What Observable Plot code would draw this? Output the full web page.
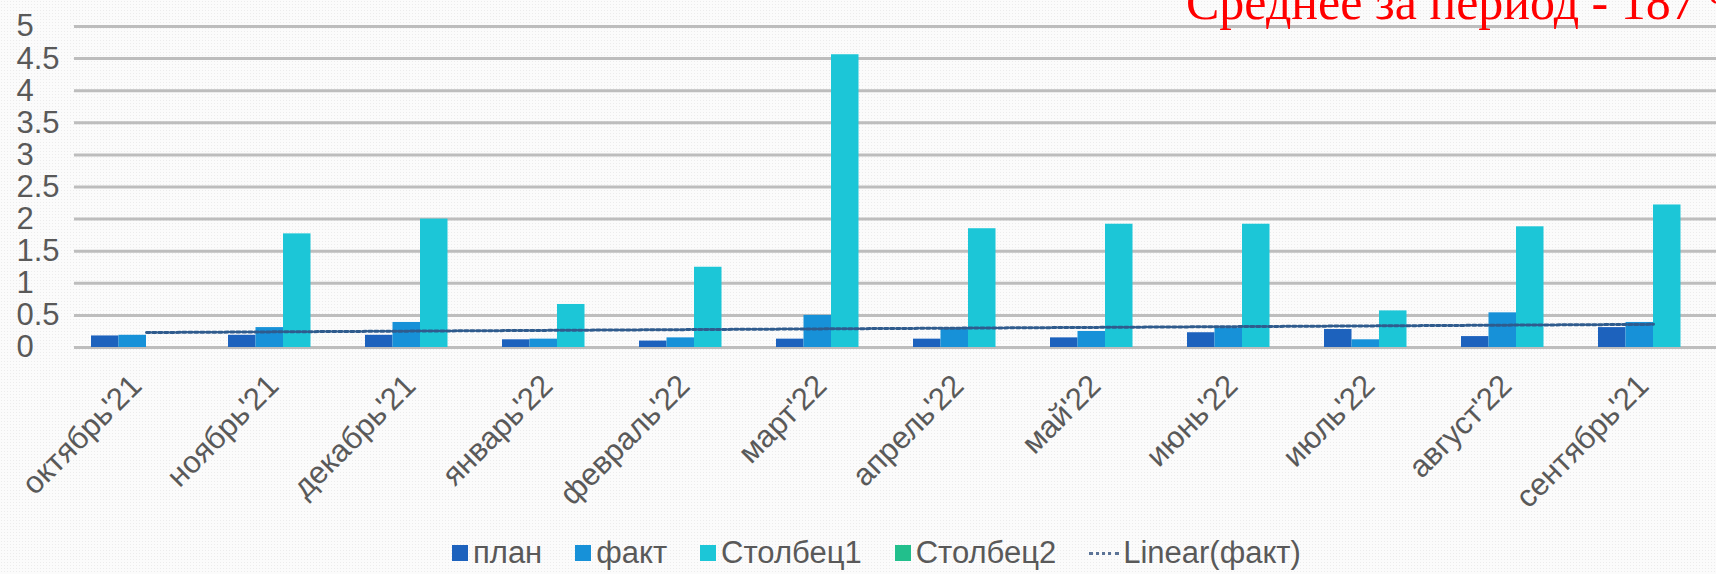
<!DOCTYPE html>
<html><head><meta charset="utf-8">
<script src="https://cdn.jsdelivr.net/npm/d3@7"></script>
<script src="https://cdn.jsdelivr.net/npm/@observablehq/plot@0.6"></script>
<style>
html,body{margin:0;padding:0;overflow:hidden;}
body{width:1716px;height:574px;background-color:#fbfbfb;background-image:radial-gradient(#ececec 0.7px, transparent 0.9px);background-size:3px 3px;font-family:"Liberation Sans",Arial,sans-serif;}
#wrap{position:relative;width:1716px;height:574px;overflow:hidden;}
#legend{display:flex;align-items:center;height:42px;padding-left:452px;font-size:31px;color:#595959;white-space:nowrap;}
.item{display:flex;align-items:center;margin-right:33px;}
.sw{width:16px;height:16px;margin-right:5px;}
.dl{width:30px;height:0;border-top:3px dotted #5b7396;margin-right:4px;}
</style></head><body>
<div id="wrap"><div id="chart"></div><div id="legend"></div></div>
<script>
const months = ["октябрь'21","ноябрь'21","декабрь'21","январь'22","февраль'22","март'22","апрель'22","май'22","июнь'22","июль'22","август'22","сентябрь'21"];
const plan = [0.18, 0.19, 0.19, 0.12, 0.10, 0.13, 0.13, 0.15, 0.23, 0.28, 0.17, 0.31];
const fact = [0.19, 0.31, 0.39, 0.13, 0.15, 0.50, 0.29, 0.25, 0.30, 0.12, 0.54, 0.39];
const col1 = [0, 1.77, 2.00, 0.67, 1.25, 4.56, 1.85, 1.92, 1.92, 0.57, 1.88, 2.22];
const col2 = [0, 0, 0, 0, 0, 0, 0, 0, 0, 0, 0, 0];
const seriesNames = ["план", "факт", "Столбец1", "Столбец2"];
const seriesColors = ["#1d62bd", "#1791d8", "#1cc6d7", "#22bf8c"];
const yTicks = [0, 0.5, 1, 1.5, 2, 2.5, 3, 3.5, 4, 4.5, 5];
const trendName = "Linear(факт)";
const title = "Среднее за период - 187 %";

const seriesValues = [plan, fact, col1, col2];
const rows = months.flatMap((m, i) => seriesValues.map((vals, s) => ({month: m, series: seriesNames[s], value: vals[i]})));

// Linear trendline of "факт" (least squares over category index)
const xs = fact.map((_, i) => i + 1);
const mx = d3.mean(xs), my = d3.mean(fact);
const slope = d3.sum(xs, (x, i) => (x - mx) * (fact[i] - my)) / d3.sum(xs, x => (x - mx) ** 2);
const trend = months.map((m, i) => ({month: m, value: my + slope * (i + 1 - mx)}));

const barW = 27.5;
const barMarks = seriesNames.map((name, s) =>
  Plot.barY(rows.filter(r => r.series === name && r.value > 0), {
    x: "month", y: "value", fill: seriesColors[s],
    insetLeft: s * barW, insetRight: (seriesNames.length - 1 - s) * barW
  })
);

const plot = Plot.plot({
  width: 1725, height: 532,
  marginLeft: 74, marginRight: 0, marginTop: 26, marginBottom: 185,
  x: {type: "band", domain: months, paddingInner: 0.2, paddingOuter: 0.1, axis: null},
  y: {domain: [0, 5], axis: null},
  style: {background: "transparent", maxWidth: "none", fontFamily: "'Liberation Sans', Arial, sans-serif"},
  marks: [
    Plot.ruleY(yTicks, {stroke: "#bdbdbd", strokeWidth: 3}),
    ...barMarks,
    Plot.line(trend, {x: "month", y: "value", stroke: "#2f5b8d", strokeWidth: 3, strokeDasharray: "3.5,2.5"}),
    Plot.text(yTicks, {y: d => d, text: d => String(d), frameAnchor: "left", textAnchor: "start", dx: -58, fontSize: 31, fill: "#595959"}),
    Plot.text(months, {x: d => d, text: d => d, frameAnchor: "bottom", rotate: -45, textAnchor: "end", dx: -3, dy: 40, fontSize: 31, fill: "#595959"})
  ]
});
d3.select(plot).append("text")
  .attr("x", 1186).attr("y", 19)
  .attr("text-anchor", "start")
  .attr("font-family", "'Liberation Serif', 'Times New Roman', serif")
  .attr("font-size", 50).attr("fill", "#ff0000")
  .text(title);
document.getElementById("chart").appendChild(plot);

const legend = d3.select("#legend");
seriesNames.forEach((name, s) => {
  const it = legend.append("div").attr("class", "item");
  it.append("div").attr("class", "sw").style("background", seriesColors[s]);
  it.append("span").text(name);
});
const lt = legend.append("div").attr("class", "item");
lt.append("div").attr("class", "dl");
lt.append("span").text(trendName);
</script>
</body></html>
